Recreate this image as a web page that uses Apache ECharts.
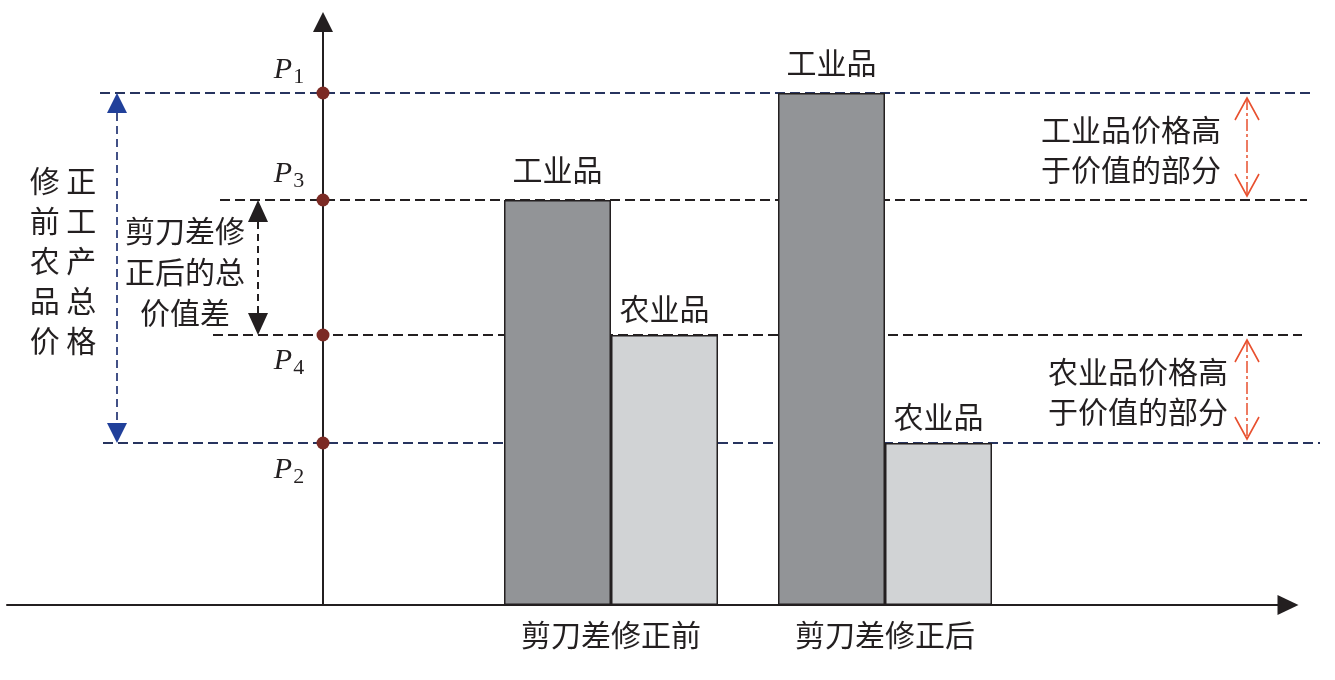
<!DOCTYPE html>
<html>
<head>
<meta charset="utf-8">
<script src="https://cdn.jsdelivr.net/npm/echarts@6/dist/echarts.min.js"></script>
<style>
  html, body { margin: 0; padding: 0; background: #ffffff; }
  #chart { width: 1335px; height: 680px; }
</style>
</head>
<body>
<div id="chart"></div>
<script>
// ---------------- DATA ----------------
const categories = ['剪刀差修正前', '剪刀差修正后'];
const industrialPrice = [81, 102.4];    // 工业品
const agriculturalPrice = [54, 32.4];   // 农业品
const levelNames = ['1', '3', '4', '2'];          // P1, P3, P4, P2
const levelValues = [102.4, 81, 54, 32.4];
const barNames = ['工业品', '农业品'];

// ---------------- LAYOUT / STYLE ----------------
const INK = '#231f20';
const NAVY = '#27345f';
const CJK = '"Noto Sans CJK SC", "Noto Sans", sans-serif';
const level = {};
levelNames.forEach((n, i) => { level[n] = levelValues[i]; });

// horizontal guide line extents (x in axis units) and colours
const guideLayout = {
  '1': { from: -22.3, to: 98.9, color: NAVY },
  '3': { from: -10.3, to: 98.4, color: INK },
  '4': { from: -11.0, to: 97.9, color: INK },
  '2': { from: -22.0, to: 99.7, color: NAVY }
};
// P label offsets (px) relative to the dot
const pLabelOffset = { '1': [-34, -23], '3': [-34, -26], '4': [-34, 26], '2': [-34, 27] };

// annotation arrows: x in axis units, ends tied to price levels
const arrows = [
  { x: -20.6, hi: level['1'], lo: level['2'], kind: 'blue' },
  { x: -6.5,  hi: level['3'], lo: level['4'], kind: 'black' },
  { x: 92.4,  hi: level['1'], lo: level['3'], kind: 'red' },
  { x: 92.4,  hi: level['4'], lo: level['2'], kind: 'red' }
];

const chart = echarts.init(document.getElementById('chart'), null, { renderer: 'canvas' });

function renderArrow(params, api) {
  const a = arrows[params.dataIndex];
  const top = api.coord([api.value(0), api.value(1)]);
  const bot = api.coord([api.value(0), api.value(2)]);
  const x = top[0];
  const children = [];
  if (a.kind === 'red') {
    const col = '#e8502f';
    const t = top[1] + 5, b = bot[1] - 4;
    const hw = 12, hl = 22;
    children.push({ type: 'line', shape: { x1: x, y1: t, x2: x, y2: b },
      style: { stroke: col, lineWidth: 1.5, lineDash: [12, 3, 3, 3] } });
    children.push({ type: 'polyline', shape: { points: [[x - hw, t + hl], [x, t], [x + hw, t + hl]] },
      style: { stroke: col, lineWidth: 1.6, fill: null } });
    children.push({ type: 'polyline', shape: { points: [[x - hw, b - hl], [x, b], [x + hw, b - hl]] },
      style: { stroke: col, lineWidth: 1.6, fill: null } });
  } else {
    const blue = a.kind === 'blue';
    const headCol = blue ? '#21409a' : INK;
    const shaftCol = blue ? '#2f3f7a' : INK;
    const hw = 10, hl = blue ? 20 : 22;
    const t = top[1], b = bot[1];
    children.push({ type: 'line', shape: { x1: x, y1: t + hl, x2: x, y2: b - hl },
      style: { stroke: shaftCol, lineWidth: blue ? 1.8 : 2, lineDash: blue ? [8, 5] : [7, 5] } });
    children.push({ type: 'polygon', shape: { points: [[x, t], [x - hw, t + hl], [x + hw, t + hl]] },
      style: { fill: headCol } });
    children.push({ type: 'polygon', shape: { points: [[x, b], [x - hw, b - hl], [x + hw, b - hl]] },
      style: { fill: headCol } });
  }
  return { type: 'group', children: children };
}

// guides live in a wider hidden grid (same scale) so they can run past the axis arrow
const guideSeries = levelNames.map((n, i) => ({
  type: 'line',
  xAxisIndex: 2, yAxisIndex: 2,
  data: [[guideLayout[n].from, levelValues[i]], [guideLayout[n].to, levelValues[i]]],
  symbol: 'none', silent: true, clip: false, z: 2,
  lineStyle: { color: guideLayout[n].color, width: 2, type: [10, 5], opacity: 1 }
}));

const barCommon = {
  type: 'bar', xAxisIndex: 1, yAxisIndex: 1,
  barWidth: 107, barGap: '0%', z: 4, silent: true
};

const hiddenAxis = { axisLine: { show: false }, axisTick: { show: false }, axisLabel: { show: false }, splitLine: { show: false } };

const option = {
  animation: false,
  backgroundColor: '#ffffff',
  grid: [
    { left: 7, right: 47, top: 22, bottom: 75, containLabel: false },
    { left: 474, right: 313, top: 22, bottom: 75, containLabel: false },
    { left: 7, right: 0, top: 22, bottom: 75, containLabel: false }
  ],
  xAxis: [
    {
      type: 'value', gridIndex: 0, min: -31.6, max: 96.5,
      axisLine: { show: true, onZero: false, symbol: ['none', 'triangle'], symbolSize: [20, 21],
        lineStyle: { color: INK, width: 2 } },
      axisTick: { show: false }, axisLabel: { show: false }, splitLine: { show: false }
    },
    {
      type: 'category', gridIndex: 1, data: categories,
      axisLine: { show: false }, axisTick: { show: false }, splitLine: { show: false },
      axisLabel: { show: true, margin: 15, fontSize: 30, fontFamily: CJK, color: INK }
    },
    Object.assign({ type: 'value', gridIndex: 2, min: -31.6, max: 101.2 }, hiddenAxis)
  ],
  yAxis: [
    {
      type: 'value', gridIndex: 0, min: 0, max: 116.6,
      axisLine: { show: true, onZero: true, onZeroAxisIndex: 0, symbol: ['none', 'triangle'], symbolSize: [20, 20],
        lineStyle: { color: INK, width: 2 } },
      axisTick: { show: false }, axisLabel: { show: false }, splitLine: { show: false }
    },
    Object.assign({ type: 'value', gridIndex: 1, min: 0, max: 116.6 }, hiddenAxis),
    Object.assign({ type: 'value', gridIndex: 2, min: 0, max: 116.6 }, hiddenAxis)
  ],
  graphic: [
    { type: 'text', x: 63, y: 261, z: 10,
      style: { text: '修 正\n前 工\n农 产\n品 总\n价 格', fontSize: 30, fontFamily: CJK, fill: INK,
        align: 'center', verticalAlign: 'middle', lineHeight: 40 } },
    { type: 'text', x: 185, y: 272, z: 10,
      style: { text: '剪刀差修\n正后的总\n价值差', fontSize: 30, fontFamily: CJK, fill: INK,
        align: 'center', verticalAlign: 'middle', lineHeight: 41 } },
    { type: 'text', x: 1131, y: 150, z: 10,
      style: { text: '工业品价格高\n于价值的部分', fontSize: 30, fontFamily: CJK, fill: INK,
        align: 'center', verticalAlign: 'middle', lineHeight: 40 } },
    { type: 'text', x: 1138, y: 392, z: 10,
      style: { text: '农业品价格高\n于价值的部分', fontSize: 30, fontFamily: CJK, fill: INK,
        align: 'center', verticalAlign: 'middle', lineHeight: 40 } }
  ],
  series: [
    ...guideSeries,
    Object.assign({}, barCommon, {
      name: barNames[0], data: industrialPrice,
      itemStyle: { color: '#929497', borderColor: INK, borderWidth: 1.5 },
      label: { show: true, position: 'top', distance: 15, formatter: barNames[0],
        fontSize: 30, fontFamily: CJK, color: INK }
    }),
    Object.assign({}, barCommon, {
      name: barNames[1], data: agriculturalPrice,
      itemStyle: { color: '#d1d3d5', borderColor: INK, borderWidth: 1.5 },
      label: { show: true, position: 'top', distance: 11, formatter: barNames[1],
        fontSize: 30, fontFamily: CJK, color: INK }
    }),
    {
      type: 'custom', xAxisIndex: 0, yAxisIndex: 0, silent: true, z: 6,
      renderItem: renderArrow,
      data: arrows.map(a => [a.x, a.hi, a.lo])
    },
    {
      type: 'scatter', xAxisIndex: 0, yAxisIndex: 0, silent: true, z: 7,
      symbol: 'circle', symbolSize: 13,
      itemStyle: { color: '#7b2a24', opacity: 1 },
      data: levelNames.map((n, i) => ({
        value: [0, levelValues[i]],
        label: {
          show: true, position: 'inside', offset: pLabelOffset[n],
          formatter: '{p|P}{s|' + n + '}',
          rich: {
            p: { fontFamily: '"Liberation Serif", serif', fontStyle: 'italic', fontSize: 30, color: INK },
            s: { fontFamily: '"Liberation Serif", serif', fontSize: 22, color: INK, padding: [14, 0, 0, 1] }
          }
        }
      }))
    }
  ]
};

chart.setOption(option);
</script>
</body>
</html>
